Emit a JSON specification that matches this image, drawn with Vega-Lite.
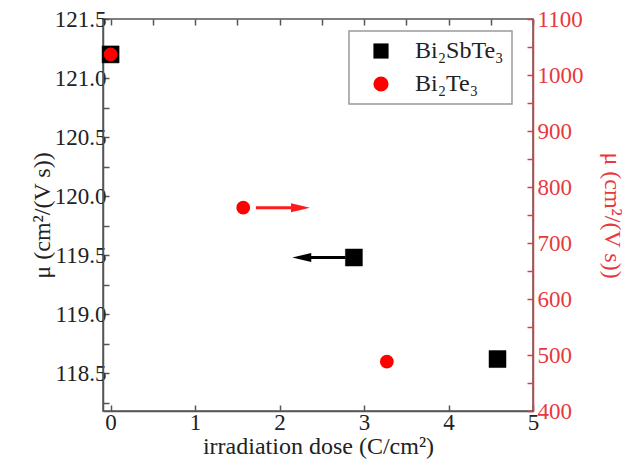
{
  "$schema": "https://vega.github.io/schema/vega-lite/v6.json",
  "width": 430,
  "height": 392,
  "autosize": "none",
  "padding": {"left": 103, "top": 19, "right": 110, "bottom": 51},
  "background": "white",
  "config": {
    "font": "Liberation Serif",
    "view": {"stroke": "#555", "strokeWidth": 1.5},
    "axis": {
      "grid": false,
      "labelFont": "Liberation Serif",
      "labelFontSize": 23,
      "labelColor": "#222",
      "titleFont": "Liberation Serif",
      "titleFontSize": 24,
      "titleFontWeight": "normal",
      "titleColor": "#222",
      "domainColor": "#555",
      "domainWidth": 1.5,
      "tickColor": "#555",
      "tickWidth": 1.5
    },
    "legend": {
      "labelFont": "Liberation Serif",
      "labelFontSize": 24,
      "labelColor": "#222",
      "strokeColor": "#999",
      "strokeWidth": 1.5,
      "padding": 8,
      "symbolSize": 230,
      "symbolStrokeWidth": 0,
      "symbolOffset": 12,
      "labelOffset": 22,
      "rowPadding": 9
    }
  },
  "datasets": {
    "bst": [
      {"dose": 0, "mu": 121.2, "series": "Bi₂SbTe₃"},
      {"dose": 2.88, "mu": 119.48, "series": "Bi₂SbTe₃"},
      {"dose": 4.58, "mu": 118.62, "series": "Bi₂SbTe₃"}
    ],
    "bt": [
      {"dose": 0, "mu": 1037, "series": "Bi₂Te₃"},
      {"dose": 1.57, "mu": 763, "series": "Bi₂Te₃"},
      {"dose": 3.27, "mu": 488, "series": "Bi₂Te₃"}
    ],
    "arrowBst": [{"start": 2.78, "end": 2.3, "tip": 2.15, "mu": 119.48}],
    "arrowBt": [{"start": 1.72, "end": 2.2, "tip": 2.36, "mu": 763}]
  },
  "layer": [
    {
      "data": {"name": "bst"},
      "mark": {"type": "point", "filled": true, "opacity": 1, "size": 289, "stroke": "#000", "strokeWidth": 0.5},
      "encoding": {
        "x": {
          "field": "dose", "type": "quantitative",
          "scale": {"domain": [-0.09, 5], "nice": false, "zero": false},
          "axis": {
            "orient": "bottom",
            "title": "irradiation dose (C/cm²)",
            "values": [0, 0.5, 1, 1.5, 2, 2.5, 3, 3.5, 4, 4.5, 5],
            "format": "d",
            "labelExpr": "datum.value % 1 === 0 ? datum.label : ''",
            "tickSize": -6,
            "labelPadding": 6,
            "titlePadding": 0,
            "labelFlush": false
          }
        },
        "y": {
          "field": "mu", "type": "quantitative",
          "scale": {"domain": [118.18, 121.5], "nice": false, "zero": false},
          "axis": {
            "orient": "left",
            "title": "μ (cm²/(V s))",
            "values": [118.25, 118.5, 118.75, 119, 119.25, 119.5, 119.75, 120, 120.25, 120.5, 120.75, 121, 121.25, 121.5],
            "format": ".1f",
            "labelExpr": "abs(datum.value * 2 - round(datum.value * 2)) < 0.01 ? datum.label : ''",
            "tickSize": -6,
            "labelPadding": 3,
            "titlePadding": 0,
            "labelFlush": false
          }
        },
        "color": {
          "field": "series", "type": "nominal",
          "scale": {"domain": ["Bi₂SbTe₃", "Bi₂Te₃"], "range": ["#000000", "#ff0000"]},
          "legend": {"title": null, "orient": "none", "legendX": 246, "legendY": 12}
        },
        "shape": {
          "field": "series", "type": "nominal",
          "scale": {"domain": ["Bi₂SbTe₃", "Bi₂Te₃"], "range": ["square", "circle"]},
          "legend": {"title": null, "orient": "none", "legendX": 246, "legendY": 12}
        }
      }
    },
    {
      "data": {"name": "bt"},
      "mark": {"type": "point", "filled": true, "opacity": 1, "size": 190},
      "encoding": {
        "x": {"field": "dose", "type": "quantitative", "scale": {"domain": [-0.09, 5], "nice": false, "zero": false}, "axis": null},
        "y": {
          "field": "mu", "type": "quantitative",
          "scale": {"domain": [400, 1100], "nice": false, "zero": false},
          "axis": {
            "orient": "right",
            "title": "μ (cm²/(V s))",
            "values": [400, 450, 500, 550, 600, 650, 700, 750, 800, 850, 900, 950, 1000, 1050, 1100],
            "format": "d",
            "labelExpr": "datum.value % 100 === 0 ? datum.label : ''",
            "tickSize": -6,
            "labelColor": "#e8383d",
            "titleColor": "#e8383d",
            "domainColor": "#e8383d",
            "tickColor": "#e8383d",
            "labelPadding": 10,
            "titlePadding": 16,
            "labelFlush": false
          }
        },
        "color": {
          "field": "series", "type": "nominal",
          "scale": {"domain": ["Bi₂SbTe₃", "Bi₂Te₃"], "range": ["#000000", "#ff0000"]},
          "legend": {"title": null, "orient": "none", "legendX": 246, "legendY": 12}
        },
        "shape": {
          "field": "series", "type": "nominal",
          "scale": {"domain": ["Bi₂SbTe₃", "Bi₂Te₃"], "range": ["square", "circle"]},
          "legend": {"title": null, "orient": "none", "legendX": 246, "legendY": 12}
        }
      }
    },
    {
      "data": {"name": "bst"},
      "mark": {"type": "point", "opacity": 0},
      "encoding": {
        "x": {
          "field": "dose", "type": "quantitative",
          "scale": {"domain": [-0.09, 5], "nice": false, "zero": false},
          "axis": {
            "orient": "top",
            "title": null,
            "labels": false,
            "domain": false,
            "values": [0, 0.5, 1, 1.5, 2, 2.5, 3, 3.5, 4, 4.5, 5],
            "tickSize": -6
          }
        },
        "y": {"field": "mu", "type": "quantitative", "scale": {"domain": [118.18, 121.5], "nice": false, "zero": false}, "axis": null}
      }
    },
    {
      "data": {"name": "arrowBst"},
      "mark": {"type": "rule", "color": "#000000", "strokeWidth": 3},
      "encoding": {
        "x": {"field": "start", "type": "quantitative", "scale": {"domain": [-0.09, 5], "nice": false, "zero": false}, "axis": null},
        "x2": {"field": "end"},
        "y": {"field": "mu", "type": "quantitative", "scale": {"domain": [118.18, 121.5], "nice": false, "zero": false}, "axis": null}
      }
    },
    {
      "data": {"name": "arrowBst"},
      "mark": {"type": "point", "filled": true, "opacity": 1, "color": "#000000", "size": 361, "shape": "M0,0L2,-0.47L2,0.47Z"},
      "encoding": {
        "x": {"field": "tip", "type": "quantitative", "scale": {"domain": [-0.09, 5], "nice": false, "zero": false}, "axis": null},
        "y": {"field": "mu", "type": "quantitative", "scale": {"domain": [118.18, 121.5], "nice": false, "zero": false}, "axis": null}
      }
    },
    {
      "data": {"name": "arrowBt"},
      "mark": {"type": "rule", "color": "#ff1a1a", "strokeWidth": 3},
      "encoding": {
        "x": {"field": "start", "type": "quantitative", "scale": {"domain": [-0.09, 5], "nice": false, "zero": false}, "axis": null},
        "x2": {"field": "end"},
        "y": {"field": "mu", "type": "quantitative", "scale": {"domain": [400, 1100], "nice": false, "zero": false}, "axis": null}
      }
    },
    {
      "data": {"name": "arrowBt"},
      "mark": {"type": "point", "filled": true, "opacity": 1, "color": "#ff1a1a", "size": 361, "shape": "M0,0L-2,-0.47L-2,0.47Z"},
      "encoding": {
        "x": {"field": "tip", "type": "quantitative", "scale": {"domain": [-0.09, 5], "nice": false, "zero": false}, "axis": null},
        "y": {"field": "mu", "type": "quantitative", "scale": {"domain": [400, 1100], "nice": false, "zero": false}, "axis": null}
      }
    }
  ],
  "resolve": {
    "scale": {"y": "independent"},
    "axis": {"x": "independent", "y": "independent"}
  }
}
